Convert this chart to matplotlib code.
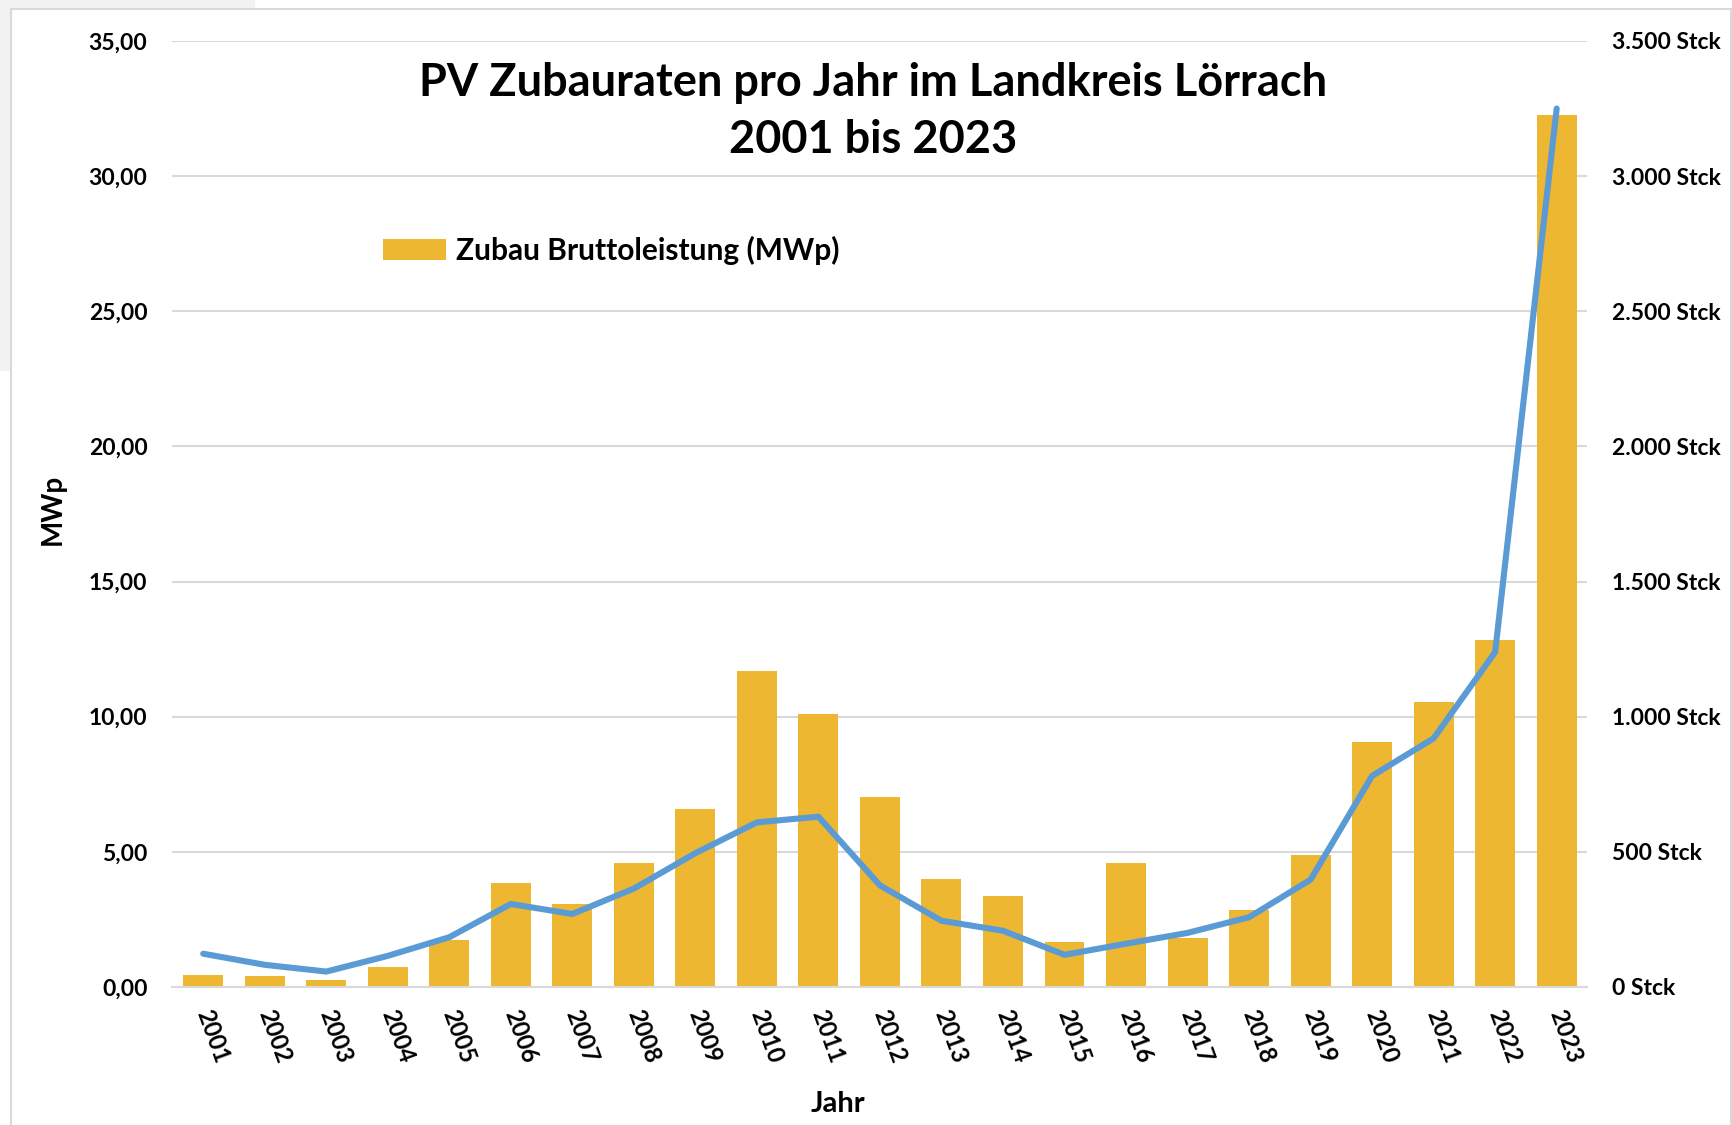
import numpy as np
import matplotlib.pyplot as plt
from matplotlib.patches import Rectangle
from matplotlib.ticker import FuncFormatter, MultipleLocator

plt.rcParams['font.family'] = ['Lato', 'DejaVu Sans']

jahre = [str(j) for j in range(2001, 2024)]
# Zubau Bruttoleistung in MWp
zubau_mwp = [0.45, 0.40, 0.25, 0.74, 1.72, 3.84, 3.07, 4.58, 6.58, 11.69, 10.10, 7.03,
             4.00, 3.35, 1.68, 4.58, 1.80, 2.86, 4.90, 9.07, 10.55, 12.84, 32.26]
# Anzahl neuer Anlagen (Stck)
anlagen_stck = [123, 82, 57, 115, 184, 307, 270, 364, 495, 609, 630, 376,
                245, 208, 119, 160, 200, 258, 397, 781, 920, 1239, 3250]

bar_color = '#EDB731'
line_color = '#5B9BD5'
grid_color = '#D9D9D9'

fig = plt.figure(figsize=(17.33, 11.25), dpi=100)
fig.patch.set_facecolor('white')

# chart frame like the excel export
fig.patches.append(Rectangle((0, 0.99), 0.147, 0.01, transform=fig.transFigure,
                             facecolor='#F2F2F2', edgecolor='none', zorder=-3))
fig.patches.append(Rectangle((0, 0.67), 0.006, 0.33, transform=fig.transFigure,
                             facecolor='#F2F2F2', edgecolor='none', zorder=-3))
fig.patches.append(Rectangle((0.0065, -0.01), 0.9925, 1.002, transform=fig.transFigure,
                             facecolor='white', edgecolor=grid_color, lw=1.5, zorder=-2))

ax = fig.add_axes([0.0995, 0.1227, 0.8165, 0.8409])
x = np.arange(len(jahre))
bars = ax.bar(x, zubau_mwp, width=0.65, color=bar_color, zorder=2,
              label='Zubau Bruttoleistung (MWp)')
ax.set_xlim(-0.5, len(jahre) - 0.5)
ax.set_ylim(0, 35)
ax.yaxis.set_major_locator(MultipleLocator(5))
ax.yaxis.set_major_formatter(FuncFormatter(lambda v, p: f'{v:.2f}'.replace('.', ',')))
ax.grid(axis='y', color=grid_color, lw=1.5, zorder=0)
ax.set_axisbelow(True)
ax.patch.set_alpha(0)
for s in ['top', 'right', 'left']:
    ax.spines[s].set_visible(False)
ax.spines['bottom'].set_color(grid_color)
ax.spines['bottom'].set_linewidth(1.5)
ax.tick_params(axis='both', length=0)
ax.tick_params(axis='y', labelsize=16.5, pad=18)
ax.set_xticks(x)
ax.set_xticklabels(jahre, rotation=-70, ha='left', va='center',
                   rotation_mode='anchor', fontsize=17, fontweight='bold')
ax.tick_params(axis='x', pad=17)
for lab in ax.get_yticklabels():
    lab.set_fontweight('bold')

ax.set_ylabel('MWp', fontsize=20, fontweight='bold')
ax.yaxis.set_label_coords(-0.0755, 0.505)
ax.set_xlabel('Jahr', fontsize=21, fontweight='bold')
ax.xaxis.set_label_coords(0.47, -0.11)

ax2 = ax.twinx()
ax2.plot(x, anlagen_stck, color=line_color, lw=4.4, solid_capstyle='round', zorder=3)
ax2.set_ylim(0, 3500)
ax2.yaxis.set_major_locator(MultipleLocator(500))
ax2.yaxis.set_major_formatter(FuncFormatter(lambda v, p: f'{int(v):,} Stck'.replace(',', '.')))
for s in ax2.spines.values():
    s.set_visible(False)
ax2.tick_params(axis='y', length=0, labelsize=16.5, pad=17.5)
for lab in ax2.get_yticklabels():
    lab.set_fontweight('bold')

ax.legend(handles=[bars], loc='center left', bbox_to_anchor=(0.149, 0.779),
          frameon=False, prop={'size': 21.5, 'weight': 'bold'},
          borderaxespad=0, borderpad=0,
          handlelength=2.1, handleheight=0.7, handletextpad=0.35)

fig.text(0.504, 0.901, 'PV Zubauraten pro Jahr im Landkreis Lörrach\n2001 bis 2023',
         ha='center', va='center', fontsize=32.5, fontweight='bold', linespacing=1.45)

fig.savefig('out.png', dpi=100)
